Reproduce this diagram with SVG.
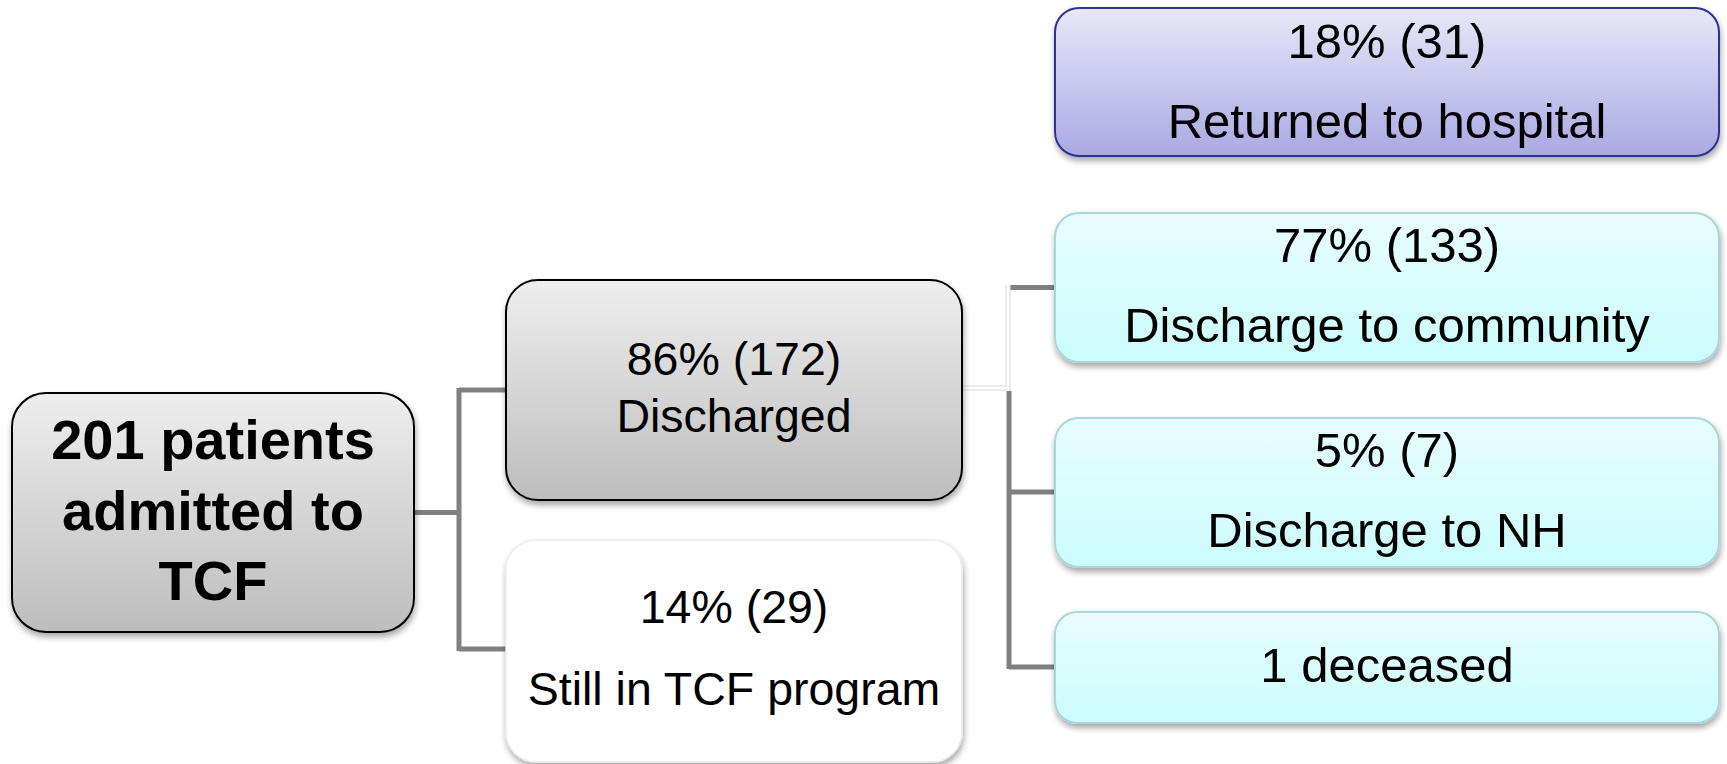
<svg xmlns="http://www.w3.org/2000/svg" width="1727" height="764" viewBox="0 0 1727 764">
<defs>
<linearGradient id="gGray" x1="0" y1="0" x2="0" y2="1">
<stop offset="0" stop-color="#eeeeee"/><stop offset="1" stop-color="#bdbdbd"/>
</linearGradient>
<linearGradient id="gBlue" x1="0" y1="0" x2="0" y2="1">
<stop offset="0" stop-color="#e8e8f8"/><stop offset="1" stop-color="#a9a9e4"/>
</linearGradient>
<linearGradient id="gCyan" x1="0" y1="0" x2="0" y2="1">
<stop offset="0" stop-color="#e8fdfd"/><stop offset="1" stop-color="#ccfcfc"/>
</linearGradient>
<filter id="sh" x="-10%" y="-10%" width="120%" height="130%">
<feDropShadow dx="1" dy="4" stdDeviation="3" flood-color="#000" flood-opacity="0.35"/>
</filter>
</defs>
<style>
.t{font-family:"Liberation Sans",Arial,sans-serif;fill:#000;text-anchor:middle}
.b{font-weight:bold;font-size:56px}
.l{font-size:46.5px}
.r{font-size:49px}
.conn{fill:none;stroke:#808080;stroke-width:5}
.gray{fill:url(#gGray);stroke:#000;stroke-width:2;filter:url(#sh)}
.cyan{fill:url(#gCyan);stroke:#a9d6da;stroke-width:2;filter:url(#sh)}
</style>
<rect width="1727" height="764" fill="#fff"/>
<g id="connectors">
<path class="conn" d="M414,512.5 H459 M459,388 V651 M459,390 H507 M459,649 H507"/>
<path d="M962,388 H1008 V285" fill="none" stroke="#d6d6d6" stroke-width="5"/>
<path d="M962,388 H1008 V285" fill="none" stroke="#ffffff" stroke-width="3"/>
<path class="conn" d="M1010.5,287.5 H1056"/>
<path class="conn" d="M1009,391 V669 M1009,492 H1056 M1009,667 H1056"/>
</g>
<g id="root">
<rect class="gray" x="12" y="393" width="402" height="239" rx="34"/>
<text class="t b" x="213" y="459">201 patients</text>
<text class="t b" x="213" y="530">admitted to</text>
<text class="t b" x="213" y="600">TCF</text>
</g>
<g id="discharged">
<rect class="gray" x="506" y="280" width="456" height="220" rx="32"/>
<text class="t l" x="734" y="375">86% (172)</text>
<text class="t l" x="734" y="432">Discharged</text>
</g>
<g id="still">
<rect x="506" y="540" width="456" height="222" rx="30" fill="#fff" stroke="#ececec" stroke-width="1.5" filter="url(#sh)"/>
<text class="t l" x="734" y="623">14% (29)</text>
<text class="t l" x="734" y="705">Still in TCF program</text>
</g>
<g id="returned">
<rect x="1055" y="8" width="664" height="148" rx="24" fill="url(#gBlue)" stroke="#2e3192" stroke-width="2" filter="url(#sh)"/>
<text class="t r" x="1387" y="58">18% (31)</text>
<text class="t r" x="1387" y="138">Returned to hospital</text>
</g>
<g id="community">
<rect class="cyan" x="1055" y="213" width="664" height="149" rx="24"/>
<text class="t r" x="1387" y="262">77% (133)</text>
<text class="t r" x="1387" y="342">Discharge to community</text>
</g>
<g id="nh">
<rect class="cyan" x="1055" y="418" width="664" height="149" rx="24"/>
<text class="t r" x="1387" y="467">5% (7)</text>
<text class="t r" x="1387" y="547">Discharge to NH</text>
</g>
<g id="deceased">
<rect class="cyan" x="1055" y="612" width="664" height="111" rx="22"/>
<text class="t r" x="1387" y="682">1 deceased</text>
</g>
</svg>
